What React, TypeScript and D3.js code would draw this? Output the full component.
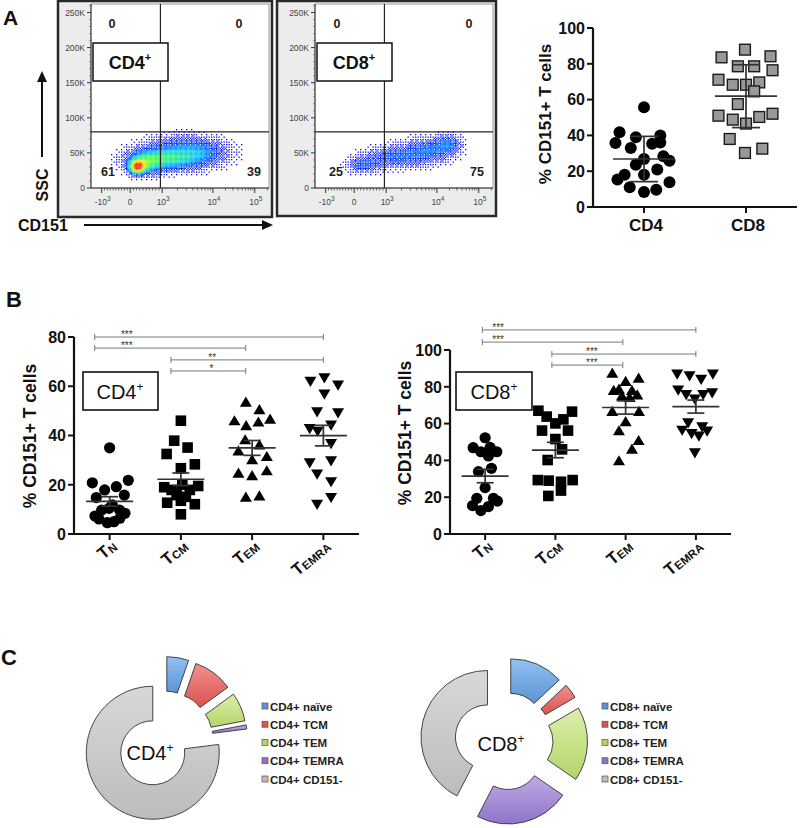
import React from "react";
import * as d3 from "d3";

const FONT = "'Liberation Sans', Arial, Helvetica, sans-serif";

/* ---------------- Panel A: flow cytometry dot plots ---------------- */
const FLOW_X_TICK_BASES = ["-10", "0", "10", "10", "10"];
const FLOW_X_TICK_EXPS = ["3", "", "3", "4", "5"];
const FLOW_X_TICK_VALUES = [0.06, 0.22, 0.4, 0.685, 0.92]; // logicle display units
const SSC_TICK_VALUES = [0, 50000, 100000, 150000, 200000, 250000];
const SSC_TICK_LABELS = ["0", "50K", "100K", "150K", "200K", "250K"];
const SSC_MAX = 262144;
const GATE_X = 0.39;
const GATE_SSC = 80000;
const CD4_QUADRANTS = ["0", "0", "61", "39"];
const CD8_QUADRANTS = ["0", "0", "25", "75"];
// density components: [display x, SSC, sd x, sd SSC, intensity]
const CD4_CLOUD = [
  [0.26, 30000, 0.028, 6000, 0.8],
  [0.3, 35000, 0.055, 9500, 0.3],
  [0.42, 42000, 0.12, 10500, 0.4],
  [0.62, 51000, 0.1, 12000, 0.2],
  [0.47, 64000, 0.11, 9000, 0.08],
];
const CD8_CLOUD = [
  [0.27, 33000, 0.055, 7500, 0.17],
  [0.45, 44000, 0.1, 10000, 0.18],
  [0.64, 54000, 0.085, 11000, 0.19],
  [0.75, 63000, 0.045, 8000, 0.17],
];

/* ---------------- Panel A: scatter CD4 vs CD8 ---------------- */
const A_CATS = ["CD4", "CD8"];
const A_Y_TICKS = [0, 20, 40, 60, 80, 100];
const A_CD4_VALUES = [55.7, 41.7, 35.8, 39, 39.9, 33, 35.4, 36, 26.8, 28.3, 25.9, 23.6, 20.9, 18, 18, 15.3, 11, 8.4, 9.7, 13.8];
const A_CD4_JITTER = [0, -0.24, -0.28, -0.08, 0.16, -0.13, 0.08, 0.16, 0, 0.19, 0.25, -0.08, 0.13, -0.19, 0, -0.26, -0.14, 0, 0.12, 0.25];
const A_CD8_VALUES = [87.9, 83.6, 84.2, 78.6, 78.6, 76.4, 71.1, 68.3, 68.3, 69.6, 64.6, 57.5, 51, 48.8, 46.6, 50.3, 52.1, 38, 32.6, 30.2];
const A_CD8_JITTER = [-0.01, -0.24, 0.24, -0.08, 0.08, 0.26, -0.27, -0.13, 0, 0.13, 0.08, -0.08, -0.27, -0.13, 0, 0.13, 0.26, -0.16, 0.16, -0.01];

/* ---------------- Panel B ---------------- */
const B_CATS = ["N", "CM", "EM", "EMRA"];
const B_CD4_TICKS = [0, 20, 40, 60, 80];
const B_CD8_TICKS = [0, 20, 40, 60, 80, 100];

const B_CD4_TN = [35, 20.8, 21.8, 17.9, 19.2, 14.8, 15.8, 7.3, 9.7, 11.8, 9.7, 8.4, 6.1, 4.6, 5.0, 6.4, 10.4];
const B_CD4_TN_J = [0, -0.243, 0.262, -0.07, 0.094, -0.187, 0.206, -0.206, -0.112, 0.038, 0.14, 0.215, -0.15, -0.032, 0.06, 0.144, -0.01];
const B_CD4_TCM = [46, 37.9, 35.1, 32.5, 28.3, 26.7, 19.0, 19.5, 17.9, 17.9, 15.8, 15.1, 12.7, 12.1, 8.0, 20.0, 13.5];
const B_CD4_TCM_J = [0, -0.094, 0.094, -0.2, 0.196, 0, -0.234, 0.243, -0.13, 0.126, -0.06, 0.07, -0.192, 0.196, 0, 0.02, 0];
const B_CD4_TEM = [53.5, 50.4, 45.9, 43.9, 45.4, 46.6, 38.2, 36.1, 33.7, 31.4, 30.1, 24.6, 23.6, 25.6, 14.9, 15.4];
const B_CD4_TEM_J = [-0.088, 0.102, -0.248, -0.084, 0.088, 0.252, -0.098, 0.102, -0.192, 0.206, 0, -0.192, 0, 0.206, -0.088, 0.102];
const B_CD4_TEMRA = [62.1, 63.5, 60.5, 56.9, 49.7, 49.3, 42.9, 41.8, 44.3, 36.8, 29.0, 29.8, 24.4, 21.3, 12.1, 14.9];
const B_CD4_TEMRA_J = [-0.182, 0.014, 0.206, 0.014, -0.088, 0.206, -0.192, -0.08, 0.108, 0.108, -0.192, 0.108, -0.088, 0.108, -0.088, 0.108];

const B_CD8_TN = [52.3, 46.9, 44.7, 47.1, 44.7, 42.4, 33.9, 35.7, 25.2, 19.4, 19.4, 15.4, 14.9, 12.7, 17.9];
const B_CD8_TN_J = [0, -0.17, -0.061, 0.071, 0.166, 0.047, -0.095, 0.09, 0, -0.118, 0.118, -0.18, 0.047, -0.061, 0.175];
const B_CD8_TCM = [67, 66.5, 63.8, 62.3, 60.1, 56.2, 56.2, 51.6, 46, 40.2, 29.3, 29, 28.4, 29.3, 23.6, 20.7];
const B_CD8_TCM_J = [-0.242, 0.237, -0.124, 0.114, 0, -0.19, 0.18, 0, 0.095, -0.11, -0.25, -0.095, 0.08, 0.246, 0.08, -0.1];
const B_CD8_TEM = [87.3, 84.6, 82.8, 77.9, 78.6, 77.9, 75.5, 75.0, 74.1, 66.5, 66.5, 61.0, 56.0, 50.7, 46.0, 39.7];
const B_CD8_TEM_J = [-0.19, 0.185, 0, -0.17, -0.095, 0.09, 0.166, -0.053, 0.057, -0.19, 0.19, 0, -0.095, 0.185, 0.09, -0.095];
const B_CD8_TEMRA = [87, 86.1, 84.1, 87, 78.3, 75.9, 73.4, 75.9, 76.8, 60.5, 56.5, 58.3, 56, 54.7, 53.3, 44.2];
const B_CD8_TEMRA_J = [-0.266, -0.09, 0.075, 0.242, -0.252, -0.138, -0.014, 0.104, 0.232, -0.11, -0.195, 0.09, 0.16, -0.061, 0.043, -0.014];

// significance brackets (category index units, y in data units)
const B_CD4_SIG_FROM = [-0.21, -0.21, 0.86, 0.86];
const B_CD4_SIG_TO = [3.0, 1.91, 3.0, 1.91];
const B_CD4_SIG_LEVEL = [80, 75.5, 70.7, 66.2];
const B_CD4_SIG_TEXT = ["***", "***", "**", "*"];
const B_CD4_SIG_TEXT_AT = [0.24, 0.24, 1.44, 1.43];
const B_CD8_SIG_FROM = [-0.04, -0.04, 0.95, 0.95];
const B_CD8_SIG_TO = [3.0, 1.96, 3.0, 1.96];
const B_CD8_SIG_LEVEL = [110.9, 104.3, 97.8, 91.8];
const B_CD8_SIG_TEXT = ["***", "***", "***", "***"];
const B_CD8_SIG_TEXT_AT = [0.185, 0.185, 1.52, 1.52];

/* ---------------- Panel C ---------------- */
const CD4_DONUT_LABELS = ["CD4+ naïve", "CD4+ TCM", "CD4+ TEM", "CD4+ TEMRA", "CD4+ CD151-"];
const CD8_DONUT_LABELS = ["CD8+ naïve", "CD8+ TCM", "CD8+ TEM", "CD8+ TEMRA", "CD8+ CD151-"];
const CD4_DONUT_SHARES = [5.3, 9.7, 7.0, 1.0, 77.0];
const CD8_DONUT_SHARES = [13.0, 3.6, 18.0, 23.0, 42.4];
const DONUT_TOP = ["#93c1f1", "#f2918d", "#dcefab", "#c0aae6", "#d8d8d8"];
const DONUT_BOTTOM = ["#5b93d6", "#d9534f", "#b3d46a", "#9073c8", "#bcbcbc"];

/* ================================================================= */

const jet = d3
  .scaleLinear<string>()
  .domain([0, 0.14, 0.3, 0.48, 0.7, 1])
  .range(["#1400ff", "#0028ff", "#00c4ff", "#3cff4a", "#ffee00", "#ff1800"])
  .clamp(true);

// ordered (Bayer) dither thresholds used to render sparse regions as dots
const BAYER = [
  [0, 8, 2, 10],
  [12, 4, 14, 6],
  [3, 11, 1, 9],
  [15, 7, 13, 5],
];

function Sup({ base, exp, x, y }: { base: string; exp: string; x: number; y: number }) {
  return (
    <text x={x} y={y} textAnchor="middle" fontSize={8.5} fill="#444">
      {base}
      {exp ? (
        <tspan dy={-4} fontSize={6.5}>
          {exp}
        </tspan>
      ) : null}
    </text>
  );
}

function FlowPlot(props: {
  frame: [number, number, number, number];
  x0: number;
  x1: number;
  y0: number;
  y1: number;
  cloud: number[][];
  quads: string[];
  label: string;
  q: number[];
}) {
  const { frame, x0, x1, y0, y1, cloud, quads, label, q } = props;
  const xs = d3.scaleLinear().domain([0, 1]).range([x0, x1]);
  const ys = d3.scaleLinear().domain([0, SSC_MAX]).range([y1, y0]);
  const step = 1.25;
  const cells: { x: number; y: number; d: number }[] = [];
  let i = 0;
  for (let px = x0; px < x1; px += step, i++) {
    let j = 0;
    for (let py = y0; py < y1; py += step, j++) {
      const t = xs.invert(px + step / 2);
      const s = ys.invert(py + step / 2);
      let d = 0;
      for (const [ct, cs, sx, sy, w] of cloud) {
        const a = (t - ct) / sx;
        const b = (s - cs) / sy;
        d += w * Math.exp(-0.5 * (a * a + b * b));
      }
      if (d < 0.01) continue;
      const p = Math.pow(Math.min(1, d / 0.22), 0.9);
      const th = (BAYER[i % 4][j % 4] + 0.5) / 16;
      if (p > th) cells.push({ x: px, y: py, d });
    }
  }
  // minor ticks on the x axis
  const [tm, t0, t3, t4, t5] = FLOW_X_TICK_VALUES;
  const minor: number[] = [];
  for (let m = 1; m < 10; m++) {
    minor.push(tm + ((t0 - tm) * m) / 10);
    minor.push(t0 + ((t3 - t0) * m) / 10);
  }
  for (let m = 2; m < 10; m++) {
    minor.push(t3 + (t4 - t3) * Math.log10(m));
    minor.push(t4 + (t5 - t4) * Math.log10(m));
  }
  minor.push(t5 + (t5 - t4) * Math.log10(2));
  const yMinor = d3.range(10000, 260001, 10000).filter((v) => v % 50000 !== 0);
  return (
    <g>
      <rect x={frame[0]} y={frame[1]} width={frame[2] - frame[0]} height={frame[3] - frame[1]} fill="#ececec" stroke="#2a2a2a" strokeWidth={2.5} />
      <rect x={x0} y={y0} width={x1 - x0} height={y1 - y0} fill="#fff" stroke="#888" strokeWidth={0.8} />
      {cells.map((c, k) => (
        <rect key={k} x={c.x} y={c.y} width={step + 0.05} height={step + 0.05} fill={jet(c.d)} />
      ))}
      {/* gates */}
      <line x1={xs(GATE_X)} x2={xs(GATE_X)} y1={y0} y2={y1} stroke="#222" strokeWidth={1.2} />
      <line x1={x0} x2={x1} y1={ys(GATE_SSC)} y2={ys(GATE_SSC)} stroke="#222" strokeWidth={1.2} />
      {/* axes */}
      <line x1={x0} x2={x0} y1={y0} y2={y1} stroke="#333" strokeWidth={1} />
      <line x1={x0} x2={x1} y1={y1} y2={y1} stroke="#333" strokeWidth={1} />
      {SSC_TICK_VALUES.map((v, k) => (
        <g key={v}>
          <line x1={x0 - 4} x2={x0} y1={ys(v)} y2={ys(v)} stroke="#333" />
          <text x={x0 - 6} y={ys(v) + 3} textAnchor="end" fontSize={8.5} fill="#444">
            {SSC_TICK_LABELS[k]}
          </text>
        </g>
      ))}
      {yMinor.map((v) => (
        <line key={v} x1={x0 - 2} x2={x0} y1={ys(v)} y2={ys(v)} stroke="#555" strokeWidth={0.6} />
      ))}
      {minor.map((t, k) => (
        <line key={k} x1={xs(t)} x2={xs(t)} y1={y1} y2={y1 + 2.5} stroke="#333" strokeWidth={0.7} />
      ))}
      {FLOW_X_TICK_VALUES.map((t, k) => (
        <g key={k}>
          <line x1={xs(t)} x2={xs(t)} y1={y1} y2={y1 + 5} stroke="#333" />
          <Sup base={FLOW_X_TICK_BASES[k]} exp={FLOW_X_TICK_EXPS[k]} x={xs(t) + (FLOW_X_TICK_EXPS[k] ? 1 : 0)} y={y1 + 17} />
        </g>
      ))}
      {/* quadrant numbers */}
      <g fontSize={12.5} fontWeight="bold" fill="#222" textAnchor="middle">
        <text x={x0 + q[0]} y={y0 + 24}>{quads[0]}</text>
        <text x={x1 - q[1]} y={y0 + 24}>{quads[1]}</text>
        <text x={x0 + q[2]} y={y1 - 12}>{quads[2]}</text>
        <text x={x1 - q[3]} y={y1 - 12}>{quads[3]}</text>
      </g>
      <rect x={x0 + 2} y={43} width={75} height={38} fill="#fff" stroke="#111" strokeWidth={1.5} />
      <text x={x0 + 39} y={69} textAnchor="middle" fontSize={18} fontWeight="bold" fill="#111">
        {label}
        <tspan dy={-8} fontSize={11}>+</tspan>
      </text>
    </g>
  );
}

type Group = { values: number[]; jitter: number[]; shape: string };

function Marker({ shape, x, y }: { shape: string; x: number; y: number }) {
  if (shape === "circle") return <circle cx={x} cy={y} r={5.6} fill="#000" />;
  if (shape === "bigCircle") return <circle cx={x} cy={y} r={6} fill="#000" />;
  if (shape === "square") return <rect x={x - 5.3} y={y - 5.3} width={10.6} height={10.6} fill="#000" />;
  if (shape === "graySquare")
    return <rect x={x - 5.4} y={y - 5.4} width={10.8} height={10.8} fill="#999" stroke="#1a1a1a" strokeWidth={1.4} />;
  if (shape === "up") return <path d={`M${x},${y - 5.8}L${x + 6},${y + 4.4}L${x - 6},${y + 4.4}Z`} fill="#000" />;
  return <path d={`M${x},${y + 5.8}L${x + 6},${y - 4.4}L${x - 6},${y - 4.4}Z`} fill="#000" />;
}

function DotPlot(props: {
  x0: number;
  x1: number;
  yTop: number;
  yBottom: number;
  yMax: number;
  ticks: number[];
  cats: string[];
  groups: Group[];
  err: "sd" | "sem";
  meanHalf: number;
  capHalf: number;
  catLabel: (c: string, x: number, y: number) => React.ReactNode;
  tickFont: number;
}) {
  const { x0, x1, yTop, yBottom, yMax, ticks, cats, groups, err, meanHalf, capHalf, catLabel, tickFont } = props;
  const y = d3.scaleLinear().domain([0, yMax]).range([yBottom, yTop]);
  const x = d3.scalePoint<string>().domain(cats).range([x0, x1]).padding(0.5);
  const step = x.step();
  return (
    <g>
      {groups.map((g, gi) => {
        const cx = x(cats[gi]) as number;
        const m = d3.mean(g.values) as number;
        const sd = d3.deviation(g.values) as number;
        const e = err === "sd" ? sd : sd / Math.sqrt(g.values.length);
        return (
          <g key={gi}>
            {g.values.map((v, i) => (
              <Marker key={i} shape={g.shape} x={cx + g.jitter[i] * step} y={y(v)} />
            ))}
            <g stroke="#333" strokeWidth={1.7}>
              <line x1={cx - meanHalf} x2={cx + meanHalf} y1={y(m)} y2={y(m)} />
              <line x1={cx} x2={cx} y1={y(m + e)} y2={y(m - e)} />
              <line x1={cx - capHalf} x2={cx + capHalf} y1={y(m + e)} y2={y(m + e)} />
              <line x1={cx - capHalf} x2={cx + capHalf} y1={y(m - e)} y2={y(m - e)} />
            </g>
          </g>
        );
      })}
      <line x1={x0} x2={x0} y1={y(yMax)} y2={yBottom + 1} stroke="#111" strokeWidth={2.2} />
      <line x1={x0 - 1} x2={x1} y1={yBottom} y2={yBottom} stroke="#111" strokeWidth={2.2} />
      {ticks.map((t) => (
        <g key={t}>
          <line x1={x0 - 6} x2={x0} y1={y(t)} y2={y(t)} stroke="#111" strokeWidth={2} />
          <text x={x0 - 8} y={y(t) + tickFont * 0.36} textAnchor="end" fontSize={tickFont} fontWeight="bold" fill="#111">
            {t}
          </text>
        </g>
      ))}
      {cats.map((c) => (
        <g key={c}>
          <line x1={x(c)} x2={x(c)} y1={yBottom} y2={yBottom + 6} stroke="#111" strokeWidth={2} />
          {catLabel(c, x(c) as number, yBottom)}
        </g>
      ))}
    </g>
  );
}

function SigBars(props: {
  x0: number;
  x1: number;
  yTop: number;
  yBottom: number;
  yMax: number;
  n: number;
  from: number[];
  to: number[];
  level: number[];
  text: string[];
  textAt: number[];
}) {
  const { x0, x1, yTop, yBottom, yMax, n, from, to, level, text, textAt } = props;
  const step = (x1 - x0) / n;
  const xi = d3.scaleLinear().domain([0, 1]).range([x0 + step / 2, x0 + step * 1.5]);
  const y = d3.scaleLinear().domain([0, yMax]).range([yBottom, yTop]);
  return (
    <g>
      {from.map((f, i) => (
        <g key={i}>
          <g stroke="#777" strokeWidth={1}>
            <line x1={xi(f)} x2={xi(to[i])} y1={y(level[i])} y2={y(level[i])} />
            <line x1={xi(f)} x2={xi(f)} y1={y(level[i]) - 3} y2={y(level[i]) + 3} />
            <line x1={xi(to[i])} x2={xi(to[i])} y1={y(level[i]) - 3} y2={y(level[i]) + 3} />
          </g>
          <text x={xi(textAt[i])} y={y(level[i]) + 1} textAnchor="middle" fontSize={10} fill="#333">
            {text[i]}
          </text>
        </g>
      ))}
    </g>
  );
}

const LABEL_ROTATION = -40;

function tLabel(c: string, x: number, y: number) {
  return (
    <text
      key={c}
      x={0}
      y={0}
      transform={`translate(${x + 8} ${y + 14}) rotate(${LABEL_ROTATION})`}
      style={{ transformBox: "view-box" }}
      textAnchor="end"
      fontSize={17}
      fontWeight="bold"
      fill="#111"
    >
      T<tspan fontSize={11.5} dy={1}>{c}</tspan>
    </text>
  );
}

function Donut(props: {
  cx: number;
  cy: number;
  shares: number[];
  labels: string[];
  legendX: number;
  center: string;
  lx: number;
  ly: number;
  id: string;
}) {
  const { cx, cy, shares, labels, legendX, center, lx, ly, id } = props;
  const pie = d3.pie<number>().sort(null).value((d) => d)(shares);
  const arc = d3.arc<d3.PieArcDatum<number>>().innerRadius(32).outerRadius(66.5);
  const explode = 17;
  return (
    <g>
      <defs>
        {DONUT_TOP.map((c, i) => (
          <linearGradient key={i} id={`${id}-g${i}`} x1="0" y1="0" x2="0" y2="1">
            <stop offset="0" stopColor={c} />
            <stop offset="1" stopColor={DONUT_BOTTOM[i]} />
          </linearGradient>
        ))}
      </defs>
      {pie.map((p, i) => {
        const mid = (p.startAngle + p.endAngle) / 2;
        const dx = Math.sin(mid) * explode;
        const dy = -Math.cos(mid) * explode;
        return (
          <path key={i} d={arc(p) as string} transform={`translate(${cx + dx},${cy + dy})`} fill={`url(#${id}-g${i})`} stroke="#333" strokeWidth={0.9} />
        );
      })}
      <text x={lx} y={ly} textAnchor="middle" fontSize={20} fill="#111">
        {center}
        <tspan dy={-8} fontSize={12}>+</tspan>
      </text>
      {labels.map((l, i) => (
        <g key={l}>
          <rect x={legendX} y={703 + i * 18.25} width={6} height={6} fill={DONUT_BOTTOM[i]} stroke="#555" strokeWidth={0.7} />
          <text x={legendX + 8} y={710.5 + i * 18.25} fontSize={11.5} fontWeight="bold" fill="#222">
            {l}
          </text>
        </g>
      ))}
    </g>
  );
}

export default function App() {
  const bCd4: Group[] = [
    { values: B_CD4_TN, jitter: B_CD4_TN_J, shape: "circle" },
    { values: B_CD4_TCM, jitter: B_CD4_TCM_J, shape: "square" },
    { values: B_CD4_TEM, jitter: B_CD4_TEM_J, shape: "up" },
    { values: B_CD4_TEMRA, jitter: B_CD4_TEMRA_J, shape: "down" },
  ];
  const bCd8: Group[] = [
    { values: B_CD8_TN, jitter: B_CD8_TN_J, shape: "circle" },
    { values: B_CD8_TCM, jitter: B_CD8_TCM_J, shape: "square" },
    { values: B_CD8_TEM, jitter: B_CD8_TEM_J, shape: "up" },
    { values: B_CD8_TEMRA, jitter: B_CD8_TEMRA_J, shape: "down" },
  ];
  const aGroups: Group[] = [
    { values: A_CD4_VALUES, jitter: A_CD4_JITTER, shape: "bigCircle" },
    { values: A_CD8_VALUES, jitter: A_CD8_JITTER, shape: "graySquare" },
  ];
  return (
    <svg width={800} height={828} viewBox="0 0 800 828" style={{ position: "absolute", left: 0, top: 0, background: "#fff" }} fontFamily={FONT}>
      <rect width={800} height={828} fill="#fff" />
      {/* Panel letters */}
      <text x={3} y={25} fontSize={21} fontWeight="bold" fill="#111">A</text>
      <text x={6} y={307} fontSize={22} fontWeight="bold" fill="#111">B</text>
      <text x={1} y={665} fontSize={22} fontWeight="bold" fill="#111">C</text>

      {/* Panel A flow plots */}
      <FlowPlot frame={[58, 1, 272, 217]} x0={91} x1={269} y0={4} y1={188} cloud={CD4_CLOUD} quads={CD4_QUADRANTS} label="CD4" q={[21, 30, 17, 15]} />
      <FlowPlot frame={[277, 1, 496, 216]} x0={315} x1={493} y0={4} y1={188} cloud={CD8_CLOUD} quads={CD8_QUADRANTS} label="CD8" q={[22, 24, 21, 16]} />

      {/* SSC arrow */}
      <line x1={42} x2={42} y1={157} y2={80} stroke="#111" strokeWidth={2} />
      <path d="M42,71L47,82L37,82Z" fill="#111" />
      <text transform="translate(48,185) rotate(-90)" textAnchor="middle" fontSize={16} fontWeight="bold" fill="#111">SSC</text>
      {/* CD151 arrow */}
      <text x={18} y={231} fontSize={16} fontWeight="bold" fill="#111">CD151</text>
      <line x1={84} x2={264} y1={225} y2={225} stroke="#111" strokeWidth={2} />
      <path d="M273,225L262,220L262,230Z" fill="#111" />

      {/* Panel A scatter */}
      <DotPlot
        x0={593}
        x1={797}
        yTop={28}
        yBottom={207}
        yMax={100}
        ticks={A_Y_TICKS}
        cats={A_CATS}
        groups={aGroups}
        err="sd"
        meanHalf={31}
        capHalf={14}
        tickFont={16}
        catLabel={(c, x, yb) => (
          <text key={c} x={x + 2} y={yb + 24} textAnchor="middle" fontSize={17} fontWeight="bold" fill="#111">
            {c}
          </text>
        )}
      />
      <text transform="translate(551,114) rotate(-90)" textAnchor="middle" fontSize={17} fontWeight="bold" fill="#111">% CD151+ T cells</text>

      {/* Panel B left */}
      <SigBars x0={74} x1={359} yTop={337} yBottom={534} yMax={80} n={4} from={B_CD4_SIG_FROM} to={B_CD4_SIG_TO} level={B_CD4_SIG_LEVEL} text={B_CD4_SIG_TEXT} textAt={B_CD4_SIG_TEXT_AT} />
      <DotPlot x0={74} x1={359} yTop={337} yBottom={534} yMax={80} ticks={B_CD4_TICKS} cats={B_CATS} groups={bCd4} err="sem" meanHalf={23.5} capHalf={8.5} tickFont={16} catLabel={tLabel} />
      <rect x={83} y={372} width={75} height={38} fill="#fff" stroke="#111" strokeWidth={1.6} />
      <text x={120} y={399} textAnchor="middle" fontSize={20} fill="#111">
        CD4<tspan dy={-8} fontSize={12}>+</tspan>
      </text>
      <text transform="translate(36,436) rotate(-90)" textAnchor="middle" fontSize={17.5} fontWeight="bold" fill="#111">% CD151+ T cells</text>

      {/* Panel B right */}
      <SigBars x0={450} x1={731} yTop={350} yBottom={534} yMax={100} n={4} from={B_CD8_SIG_FROM} to={B_CD8_SIG_TO} level={B_CD8_SIG_LEVEL} text={B_CD8_SIG_TEXT} textAt={B_CD8_SIG_TEXT_AT} />
      <DotPlot x0={450} x1={731} yTop={350} yBottom={534} yMax={100} ticks={B_CD8_TICKS} cats={B_CATS} groups={bCd8} err="sem" meanHalf={23.5} capHalf={8.5} tickFont={16} catLabel={tLabel} />
      <rect x={456} y={372} width={76} height={38} fill="#fff" stroke="#111" strokeWidth={1.6} />
      <text x={494} y={399} textAnchor="middle" fontSize={20} fill="#111">
        CD8<tspan dy={-8} fontSize={12}>+</tspan>
      </text>
      <text transform="translate(411,433) rotate(-90)" textAnchor="middle" fontSize={17.5} fontWeight="bold" fill="#111">% CD151+ T cells</text>

      {/* Panel C */}
      <Donut cx={164} cy={740} shares={CD4_DONUT_SHARES} labels={CD4_DONUT_LABELS} legendX={262} center="CD4" lx={150} ly={760} id="d4" />
      <Donut cx={504} cy={741} shares={CD8_DONUT_SHARES} labels={CD8_DONUT_LABELS} legendX={602} center="CD8" lx={501} ly={751} id="d8" />
    </svg>
  );
}
